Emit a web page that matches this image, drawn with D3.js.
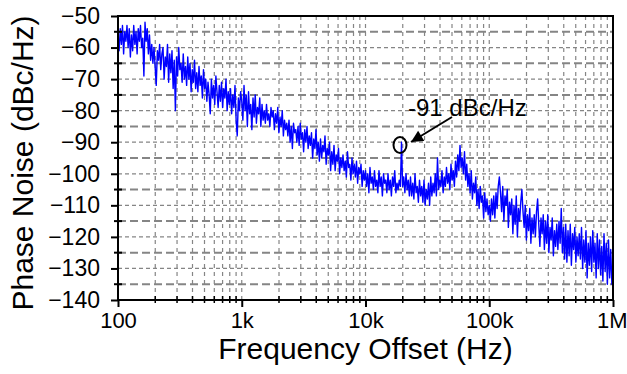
<!DOCTYPE html>
<html>
<head>
<meta charset="utf-8">
<script src="https://cdn.jsdelivr.net/npm/d3@7"></script>
<style>
  body { margin: 0; background: #fff; }
  text { font-family: "Liberation Sans", Arial, sans-serif; }
</style>
</head>
<body>
<div id="chart"></div>
<script>
// frequency mantissas within one decade (100 .. 1000), log spaced
const mantissa = [100, 102.1, 104.3, 106.5, 108.7, 111.0, 113.4, 115.8, 118.2, 120.7,
  123.3, 125.9, 128.5, 131.3, 134.0, 136.9, 139.8, 142.7, 145.8, 148.8,
  152.0, 155.2, 158.5, 161.9, 165.3, 168.8, 172.3, 176.0, 179.7, 183.5,
  187.4, 191.4, 195.4, 199.5, 203.7, 208.1, 212.5, 217.0, 221.5, 226.3,
  231.0, 235.9, 240.9, 246.0, 251.2, 256.5, 261.9, 267.5, 273.1, 279.0,
  284.8, 290.9, 297.0, 303.3, 309.7, 316.2, 322.9, 329.8, 336.7, 343.9,
  351.1, 358.6, 366.1, 373.9, 381.8, 389.9, 398.1, 406.6, 415.1, 424.0,
  432.9, 442.1, 451.4, 461.0, 470.7, 480.8, 490.8, 501.2, 511.8, 522.6,
  533.7, 545.0, 556.5, 568.3, 580.3, 592.6, 605.1, 618.0, 631.0, 644.4,
  657.9, 672.0, 686.1, 700.7, 715.4, 730.7, 746.0, 762.0, 777.9, 794.3,
  811.1, 828.3, 845.8, 863.8, 882.0, 900.7, 919.7, 939.2, 959.0, 979.3, 1000];

// phase noise (dBc/Hz), one array per decade
const noise100 = [-56, -61, -54, -59, -53, -62, -55, -58, -53, -60,
  -54, -63, -56, -61, -53, -59, -55, -62, -54, -58,
  -53, -60, -57, -69, -52, -58, -54, -62, -56, -64,
  -59, -65, -60, -66, -72, -61, -64, -59, -67, -62,
  -60, -70, -63, -66, -59, -71, -62, -68, -61, -73,
  -64, -80, -63, -69, -60, -67, -65, -71, -62, -70,
  -66, -72, -63, -70, -65, -74, -67, -71, -64, -73,
  -68, -74, -66, -72, -69, -76, -67, -73, -70, -77,
  -71, -75, -81, -70, -76, -72, -78, -69, -74, -79,
  -72, -77, -71, -79, -73, -76, -70, -80, -74, -78,
  -73, -81, -75, -79, -72, -83, -88, -76, -80, -74];
const noise1k = [-77, -83, -72, -80, -75, -85, -74, -81, -78, -86,
  -76, -82, -75, -84, -79, -81, -76, -85, -78, -83,
  -80, -84, -78, -83, -81, -85, -79, -82, -80, -86,
  -81, -84, -79, -87, -82, -85, -80, -88, -83, -86,
  -84, -88, -83, -90, -85, -92, -84, -87, -86, -90,
  -85, -91, -84, -89, -87, -93, -86, -90, -85, -92,
  -88, -91, -87, -95, -89, -92, -86, -94, -90, -96,
  -89, -95, -91, -93, -88, -97, -92, -94, -90, -99,
  -93, -97, -91, -99, -94, -96, -92, -100, -95, -98,
  -94, -99, -96, -101, -93, -98, -97, -102, -95, -100,
  -97, -101, -96, -103, -98, -100, -97, -104, -99, -102];
const noise10k = [-99, -104, -100, -106, -98, -103, -101, -105, -99, -104,
  -102, -106, -99, -104, -101, -107, -100, -103, -102, -106,
  -100, -105, -102, -107, -101, -104, -99, -106, -103, -105,
  -102, -104, -90, -104, -101, -106, -100, -105, -102, -107,
  -101, -107, -103, -108, -100, -106, -104, -109, -102, -107,
  -104, -109, -102, -110, -105, -108, -103, -110, -101, -107,
  -103, -106, -100, -107, -95, -105, -102, -104, -99, -106,
  -101, -104, -98, -103, -100, -105, -97, -102, -99, -104,
  -96, -101, -94, -99, -91, -98, -95, -100, -93, -102,
  -97, -104, -100, -106, -99, -108, -103, -106, -101, -110,
  -105, -111, -104, -109, -107, -114, -106, -112, -108, -113];
const noise100k = [-110, -115, -108, -113, -107, -114, -106, -111, -104, -101,
  -106, -112, -104, -115, -107, -110, -105, -117, -109, -113,
  -108, -119, -110, -116, -107, -120, -111, -115, -109, -105,
  -112, -117, -110, -121, -113, -118, -111, -122, -114, -119,
  -113, -120, -112, -108, -116, -123, -114, -119, -113, -124,
  -115, -122, -113, -125, -117, -121, -114, -126, -118, -123,
  -116, -124, -115, -122, -111, -125, -117, -127, -116, -128,
  -118, -126, -116, -129, -119, -124, -117, -128, -120, -126,
  -119, -127, -117, -130, -121, -128, -118, -133, -122, -129,
  -120, -131, -118, -128, -122, -133, -119, -130, -121, -132,
  -123, -134, -119, -131, -122, -135, -121, -133, -124, -135, -128];

const decades = [
  { scale: 1, values: noise100 },
  { scale: 10, values: noise1k },
  { scale: 100, values: noise10k },
  { scale: 1000, values: noise100k }
];

const xTickValues = [100, 1000, 10000, 100000, 1000000];
const xTickLabels = ['100', '1k', '10k', '100k', '1M'];
const yTickValues = [-140, -130, -120, -110, -100, -90, -80, -70, -60, -50];

const points = [];
decades.forEach(d => {
  d.values.forEach((v, i) => points.push({ f: mantissa[i] * d.scale, v: v }));
});

const width = 627, height = 374;
const margin = { top: 16, right: 14, bottom: 74, left: 118 };
const w = width - margin.left - margin.right;
const h = height - margin.top - margin.bottom;

const svg = d3.select('#chart')
  .append('svg')
  .attr('width', width)
  .attr('height', height);

const g = svg.append('g')
  .attr('transform', `translate(${margin.left},${margin.top})`);

const x = d3.scaleLog().domain([100, 1000000]).range([0, w]);
const y = d3.scaleLinear().domain([-140, -50]).range([h, 0]);

// minor log positions
const minorX = [];
[100, 1000, 10000, 100000].forEach(dec => {
  for (let k = 2; k <= 9; k++) minorX.push(dec * k);
});
const halfY = d3.range(-135, -50, 10);

// grid
g.selectAll('.vgrid')
  .data(minorX.concat([1000, 10000, 100000]))
  .enter()
  .append('line')
  .attr('x1', d => x(d))
  .attr('x2', d => x(d))
  .attr('y1', 0)
  .attr('y2', h)
  .attr('stroke', '#858585')
  .attr('stroke-width', 1.2)
  .attr('stroke-dasharray', '4,4');

g.selectAll('.hgrid')
  .data(yTickValues.slice(1, -1))
  .enter()
  .append('line')
  .attr('x1', 0)
  .attr('x2', w)
  .attr('y1', d => y(d))
  .attr('y2', d => y(d))
  .attr('stroke', '#858585')
  .attr('stroke-width', 1.2)
  .attr('stroke-dasharray', '4,3');

g.selectAll('.hgrid2')
  .data(halfY)
  .enter()
  .append('line')
  .attr('x1', 0)
  .attr('x2', w)
  .attr('y1', d => y(d))
  .attr('y2', d => y(d))
  .attr('stroke', '#858585')
  .attr('stroke-width', 2)
  .attr('stroke-dasharray', '8,4');

// data
const line = d3.line()
  .x(d => x(d.f))
  .y(d => y(d.v));

g.append('path')
  .datum(points)
  .attr('d', line)
  .attr('fill', 'none')
  .attr('stroke', '#0000ff')
  .attr('stroke-width', 1.4)
  .attr('stroke-linejoin', 'round');

// frame
g.append('rect')
  .attr('x', 0)
  .attr('y', 0)
  .attr('width', w)
  .attr('height', h)
  .attr('fill', 'none')
  .attr('stroke', '#000')
  .attr('stroke-width', 2);

// axes
const xAxis = g.append('g')
  .attr('transform', `translate(0,${h})`)
  .call(d3.axisBottom(x).tickValues(xTickValues).tickSize(7).tickPadding(5)
    .tickFormat((d, i) => xTickLabels[i]));
xAxis.select('.domain').remove();
xAxis.selectAll('line').attr('stroke-width', 2);
xAxis.selectAll('text').style('font-size', '22px').attr('fill', '#000');
xAxis.selectAll('text').filter(d => d === 1000000)
  .attr('text-anchor', 'end')
  .attr('x', 14);

g.selectAll('.xminor')
  .data(minorX)
  .enter()
  .append('line')
  .attr('x1', d => x(d))
  .attr('x2', d => x(d))
  .attr('y1', h - 4)
  .attr('y2', h + 3)
  .attr('stroke', '#000')
  .attr('stroke-width', 1.5);

const yAxis = g.append('g')
  .call(d3.axisLeft(y).tickValues(yTickValues).tickSize(7).tickPadding(11));
yAxis.select('.domain').remove();
yAxis.selectAll('line').attr('stroke-width', 2);
yAxis.selectAll('text').style('font-size', '23px').attr('fill', '#000');

g.selectAll('.yminor')
  .data(halfY)
  .enter()
  .append('line')
  .attr('x1', -4)
  .attr('x2', 4)
  .attr('y1', d => y(d))
  .attr('y2', d => y(d))
  .attr('stroke', '#000')
  .attr('stroke-width', 2);

// titles
svg.append('text')
  .attr('x', margin.left + w / 2)
  .attr('y', 359)
  .attr('text-anchor', 'middle')
  .style('font-size', '30px')
  .text('Frequency Offset (Hz)');

svg.append('text')
  .attr('transform', 'rotate(-90)')
  .attr('x', -163)
  .attr('y', 33)
  .attr('text-anchor', 'middle')
  .style('font-size', '30px')
  .text('Phase Noise (dBc/Hz)');

// annotation
svg.append('defs').append('marker')
  .attr('id', 'arrow')
  .attr('viewBox', '0 0 10 10')
  .attr('refX', 10)
  .attr('refY', 5)
  .attr('markerWidth', 7)
  .attr('markerHeight', 6)
  .attr('orient', 'auto')
  .append('path')
  .attr('d', 'M0,0 L10,5 L0,10 Z')
  .attr('fill', '#000');

svg.append('ellipse')
  .attr('cx', 400)
  .attr('cy', 145)
  .attr('rx', 6.5)
  .attr('ry', 8)
  .attr('fill', 'none')
  .attr('stroke', '#000')
  .attr('stroke-width', 2);

svg.append('line')
  .attr('x1', 452)
  .attr('y1', 117)
  .attr('x2', 411)
  .attr('y2', 142)
  .attr('stroke', '#000')
  .attr('stroke-width', 2)
  .attr('marker-end', 'url(#arrow)');

svg.append('text')
  .attr('x', 408)
  .attr('y', 116)
  .style('font-size', '24px')
  .text('-91 dBc/Hz');
</script>
</body>
</html>
